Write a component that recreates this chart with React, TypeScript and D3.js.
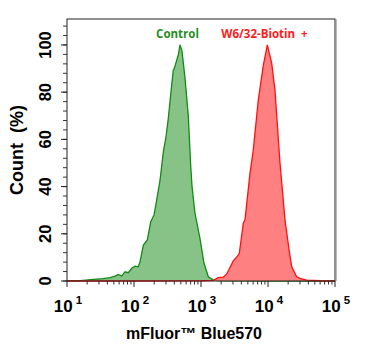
import React from "react";
import * as d3 from "d3";

const controlX = [10, 16, 24.7, 34.8, 43.9, 52, 58.3, 65.5, 73.5, 82.3, 92.5, 103.5, 116, 123, 138, 158, 178, 199, 218, 245, 274, 300, 325, 365, 386, 399, 434, 460, 486, 520, 577, 646, 701, 735, 813, 966, 1109, 1285, 1528, 1905, 3000, 10000, 100000];
const controlY = [0.2, 0.2, 0.7, 1.0, 1.4, 2.1, 2.8, 2.1, 3.9, 3.5, 5.4, 6.3, 6.0, 8.2, 15.2, 17.4, 25.1, 28, 34.3, 42.8, 54.7, 61, 68.9, 83, 89.3, 90, 93.6, 96, 100, 97.5, 86, 70, 49, 40, 28.7, 18, 7.5, 1.8, 0.4, 0.1, 0.05, 0, 0];

const stainedX = [10, 100, 1000, 1528, 1811, 2153, 2421, 3034, 3500, 3733, 4276, 4539, 5383, 6026, 7161, 8511, 9772, 11350, 12706, 15101, 17947, 20797, 22594, 26792, 30061, 37844, 59704, 100000];
const stainedY = [0, 0, 0.1, 0.3, 1.4, 1.6, 3.0, 8.5, 10.5, 11.7, 24.4, 26, 45.6, 55.5, 76.6, 91.4, 100, 92.3, 80.9, 50, 25.8, 12.5, 6, 1.8, 1.1, 0.4, 0.1, 0];

const yTicks = [0, 20, 40, 60, 80, 100];
const xExponents = [1, 2, 3, 4, 5];
const seriesLabels = ["Control", "W6/32-Biotin  +"];

const W = 366, H = 358;
const L = 67, R = 335, T = 19, B = 281;

export default function App() {
  const x = d3.scaleLog().domain([10, 100000]).range([L, R]);
  const y = d3.scaleLinear().domain([0, 111]).range([B, T]);

  const area = d3.area<[number, number]>().x(d => x(d[0])).y0(B).y1(d => y(d[1]));
  const line = d3.line<[number, number]>().x(d => x(d[0])).y(d => y(d[1]));

  const ctrl: [number, number][] = controlX.map((v, i) => [v, controlY[i]]);
  const stn: [number, number][] = stainedX.map((v, i) => [v, stainedY[i]]);

  const yMinor = d3.range(0, 111, 4);
  const xMinor: number[] = [];
  for (let e = 1; e < 5; e++) for (let k = 2; k <= 9; k++) xMinor.push(k * Math.pow(10, e));

  const axisFont = "'Liberation Sans', Arial, sans-serif";

  return (
    <svg width={W} height={H} style={{ position: "absolute", left: 0, top: 0 }}>
      <rect x={0} y={0} width={W} height={H} fill="#fff" />
      <path d={area(ctrl) || ""} fill="#87c387" />
      <path d={line(ctrl) || ""} fill="none" stroke="#138a13" strokeWidth={1.3} />
      <path d={area(stn) || ""} fill="#ff8080" />
      <path d={line(stn) || ""} fill="none" stroke="#ff1010" strokeWidth={1.3} />

      <rect x={L} y={T} width={R - L} height={B - T} fill="none" stroke="#222" strokeWidth={1} />
      <line x1={R + 1.5} y1={T} x2={R + 1.5} y2={B} stroke="#bbb" strokeWidth={1} />

      {yMinor.map(v => (
        <line key={"ym" + v} x1={L - 4} x2={L} y1={y(v)} y2={y(v)} stroke="#333" strokeWidth={1} />
      ))}
      {yTicks.map(v => (
        <g key={"y" + v}>
          <line x1={L - 6} x2={L} y1={y(v)} y2={y(v)} stroke="#222" strokeWidth={1} />
          <text transform={`translate(51,${y(v)}) rotate(-90)`} textAnchor="middle" fontFamily={axisFont} fontWeight="bold" fontSize={16.5} fill="#000">{v}</text>
        </g>
      ))}

      {xMinor.map(v => (
        <line key={"xm" + v} x1={x(v)} x2={x(v)} y1={B} y2={B + 3.5} stroke="#333" strokeWidth={1} />
      ))}
      {xExponents.map(e => (
        <g key={"x" + e}>
          <line x1={x(Math.pow(10, e))} x2={x(Math.pow(10, e))} y1={B} y2={B + 6} stroke="#222" strokeWidth={1} />
          <text x={x(Math.pow(10, e)) + 1} y={311.5} textAnchor="middle" fontFamily={axisFont} fontWeight="bold" fontSize={17} fill="#000">
            <tspan>10</tspan>
            <tspan dx={3} dy={-8} fontSize={11.5}>{e}</tspan>
          </text>
        </g>
      ))}

      <text x={194} y={338.5} textAnchor="middle" fontFamily={axisFont} fontWeight="bold" fontSize={16} fill="#000">mFluor™ Blue570</text>
      <text transform={`translate(23,150) rotate(-90)`} textAnchor="middle" fontFamily={axisFont} fontWeight="bold" fontSize={18} fill="#000" style={{ whiteSpace: "pre" }}>Count  (%)</text>

      <text x={177.5} y={38.3} textAnchor="middle" fontFamily="'Open Sans', sans-serif" fontWeight="bold" fontSize={11.5} fill="#1f8f1f">{seriesLabels[0]}</text>
      <text x={264.5} y={38.3} textAnchor="middle" fontFamily="'Open Sans', sans-serif" fontWeight="bold" fontSize={11.5} fill="#ff1a1a" style={{ whiteSpace: "pre" }}>{seriesLabels[1]}</text>
    </svg>
  );
}
